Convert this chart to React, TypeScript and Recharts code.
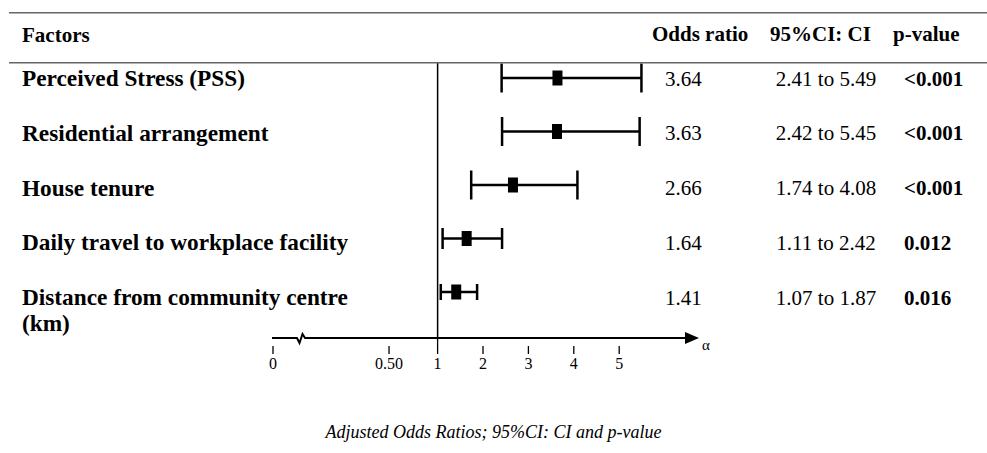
import { ScatterChart, Scatter, XAxis, YAxis, ErrorBar, ReferenceLine } from 'recharts';

// Table / forest plot data
const FACTORS = [
    'Perceived Stress (PSS)',
    'Residential arrangement',
    'House tenure',
    'Daily travel to workplace facility',
    'Distance from community centre\n(km)',
];
const ODDS = [3.64, 3.63, 2.66, 1.64, 1.41];
const CI_LOW = [2.41, 2.42, 1.74, 1.11, 1.07];
const CI_HIGH = [5.49, 5.45, 4.08, 2.42, 1.87];
const CI_TEXT = ['2.41 to 5.49', '2.42 to 5.45', '1.74 to 4.08', '1.11 to 2.42', '1.07 to 1.87'];
const P_VALUES = ['<0.001', '<0.001', '<0.001', '0.012', '0.016'];

const AXIS_TICKS = [0, 0.5, 1, 2, 3, 4, 5];
const AXIS_LABELS = ['0', '0.50', '1', '2', '3', '4', '5'];

const HEADERS = ['Factors', 'Odds ratio', '95%CI: CI', 'p-value'];
const CAPTION = 'Adjusted Odds Ratios; 95%CI: CI and p-value';

// cap half-heights of the whiskers, top row to bottom row
const CAP_HALF = [14.5, 14.5, 14.5, 10.5, 8];

const SERIF = '"Liberation Serif", "Times New Roman", serif';
const W = 987;
const H = 453;

// broken axis: values below 1 are squeezed onto the left part
const toAxis = (v: number) => {
    if (v >= 1) return v;
    if (v >= 0.5) return -0.07 + (v - 0.5) * (1.07 / 0.5);
    return -2.626 + v * (2.556 / 0.5);
};

const X_DOMAIN = [-2.648, 6.758];
const PTS_DOMAIN = [-0.2804, 4.8598];
const TXT_DOMAIN = [-0.283, 4.737];
const ROW_IDX = FACTORS.map((_, i) => i);

const rows = FACTORS.map((_, i) => ({
    x: toAxis(ODDS[i]),
    y: i,
    err: [ODDS[i] - CI_LOW[i], CI_HIGH[i] - ODDS[i]],
}));

const Marker = (props: any) => (
    <rect x={props.cx - 5} y={props.cy - 7.5} width={10} height={15} fill="#000" />
);

const LabelTick = ({ y, payload }: any) => {
    const lines = FACTORS[payload.value].split('\n');
    return (
        <text x={22} y={y + 7.5} style={{ fontFamily: SERIF, fontWeight: 700, fontSize: 23.3 }} fill="#000">
            {lines.map((l, k) => (
                <tspan key={k} x={22} dy={k === 0 ? 0 : 26}>{l}</tspan>
            ))}
        </text>
    );
};

const ValueTick = ({ y, payload }: any) => {
    const i = payload.value;
    const ty = y + 7;
    const base = { fontFamily: SERIF, fontSize: 21 };
    return (
        <g fill="#000">
            <text x={665} y={ty} style={base}>{ODDS[i].toFixed(2)}</text>
            <text x={826} y={ty} textAnchor="middle" style={base}>{CI_TEXT[i]}</text>
            <text x={904} y={ty} style={{ ...base, fontWeight: 700 }}>{P_VALUES[i]}</text>
        </g>
    );
};

const AxisTick = ({ x, y, payload }: any) => {
    const idx = AXIS_TICKS.findIndex(t => Math.abs(toAxis(t) - payload.value) < 1e-6);
    if (idx < 0) return null;
    const isOne = AXIS_TICKS[idx] === 1;
    return (
        <g>
            <line x1={x} x2={x} y1={isOne ? y : y + 8} y2={y + 16} stroke="#000" strokeWidth={1.3} />
            <text x={x} y={y + 31} textAnchor="middle" style={{ fontFamily: SERIF, fontSize: 16 }} fill="#000">
                {AXIS_LABELS[idx]}
            </text>
        </g>
    );
};

// x axis line with break marker and arrow head
const AxisLine = ({ x1, y1, x2 }: any) => {
    const y = y1;
    const b = x1 + 25;
    return (
        <g>
            <path
                d={`M${x1},${y} L${b},${y} L${b + 2.5},${y + 5} L${b + 5.5},${y - 4} L${b + 8},${y} L${x2 - 12},${y}`}
                stroke="#000" strokeWidth={2} fill="none"
            />
            <path d={`M${x2 - 14},${y - 6} L${x2},${y} L${x2 - 14},${y + 6} Z`} fill="#000" />
            <text x={x2 + 3} y={y + 12} style={{ fontFamily: SERIF, fontSize: 15 }} fill="#000">α</text>
        </g>
    );
};

export default function App() {
    const head = { fontFamily: SERIF, fontWeight: 700, fontSize: 21 };
    return (
        <div style={{ position: 'absolute', left: 0, top: 0, width: W, height: H, background: '#fff' }}>
            <ScatterChart width={W} height={H} margin={{ top: 63, right: 0, bottom: 75, left: 0 }}>
                <XAxis
                    type="number"
                    dataKey="x"
                    domain={X_DOMAIN}
                    allowDataOverflow
                    ticks={AXIS_TICKS.map(toAxis)}
                    interval={0}
                    axisLine={false}
                    tickLine={false}
                    tickSize={0}
                    tickMargin={0}
                    height={40}
                    tick={<AxisTick />}
                />
                <YAxis yAxisId="pts" type="number" dataKey="y" domain={PTS_DOMAIN} allowDataOverflow reversed hide />
                <YAxis
                    yAxisId="lbl"
                    orientation="left"
                    type="number"
                    domain={TXT_DOMAIN}
                    allowDataOverflow
                    reversed
                    ticks={ROW_IDX}
                    interval={0}
                    width={272}
                    axisLine={false}
                    tickLine={false}
                    tick={<LabelTick />}
                />
                <YAxis
                    yAxisId="val"
                    orientation="right"
                    type="number"
                    domain={TXT_DOMAIN}
                    allowDataOverflow
                    reversed
                    ticks={ROW_IDX}
                    interval={0}
                    width={288}
                    axisLine={false}
                    tickLine={false}
                    tick={<ValueTick />}
                />
                <ReferenceLine yAxisId="pts" x={1} stroke="#000" strokeWidth={1.5} ifOverflow="visible" />
                <ReferenceLine yAxisId="pts" y={PTS_DOMAIN[1]} ifOverflow="visible" shape={AxisLine} />
                {rows.map((r, i) => (
                    <Scatter key={i} yAxisId="pts" data={[r]} shape={Marker} isAnimationActive={false}>
                        <ErrorBar dataKey="err" direction="x" width={CAP_HALF[i]} stroke="#000" strokeWidth={2.5} />
                    </Scatter>
                ))}
            </ScatterChart>
            <svg width={W} height={H} style={{ position: 'absolute', left: 0, top: 0, pointerEvents: 'none' }}>
                <line x1={9} x2={W} y1={12.7} y2={12.7} stroke="#666" strokeWidth={1.6} />
                <line x1={9} x2={W} y1={62.7} y2={62.7} stroke="#666" strokeWidth={1.6} />
                <g fill="#000">
                    <text x={22} y={42} style={head}>{HEADERS[0]}</text>
                    <text x={652} y={41} style={head}>{HEADERS[1]}</text>
                    <text x={770} y={41} style={head}>{HEADERS[2]}</text>
                    <text x={893} y={41} style={head}>{HEADERS[3]}</text>
                </g>
                <text x={W / 2} y={438} textAnchor="middle" style={{ fontFamily: SERIF, fontStyle: 'italic', fontSize: 18 }} fill="#000">
                    {CAPTION}
                </text>
            </svg>
        </div>
    );
}
